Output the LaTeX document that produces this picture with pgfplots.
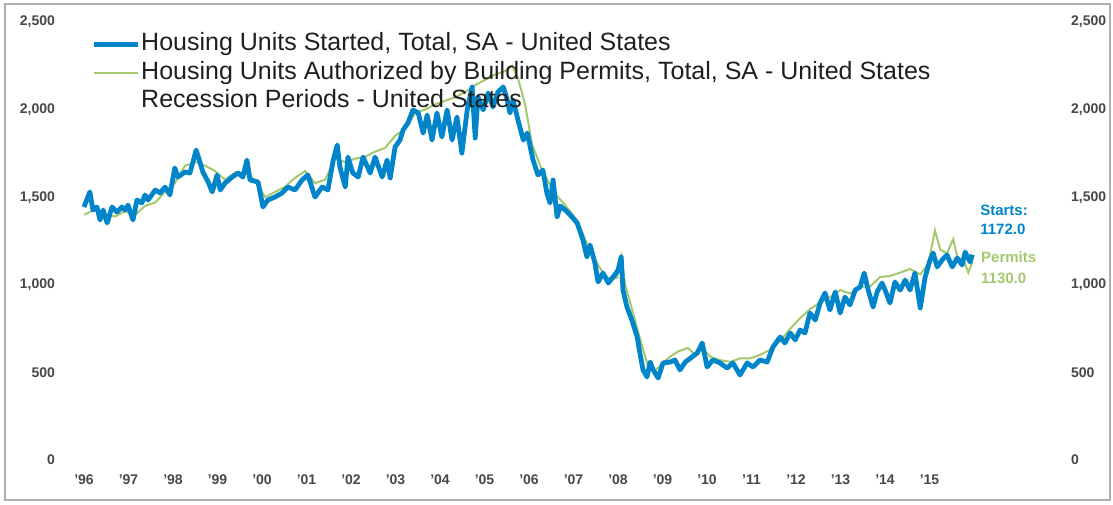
\documentclass[border=0pt]{standalone}
\usepackage{pgfplots}
\pgfplotsset{compat=1.18}
\usepackage{fontspec}
\setmainfont{Liberation Sans}
\definecolor{startsblue}{RGB}{0,133,202}
\definecolor{permgreen}{RGB}{163,200,110}
\definecolor{framegray}{RGB}{175,175,175}

\begin{document}
\begin{tikzpicture}
% page extent and outer frame
\path (-35pt,-22pt) rectangle (521.5pt,230pt);
\draw[framegray, line width=1pt] (-32.5pt,-20pt) rectangle (520pt,228pt);

\begin{axis}[
  at={(0,0)}, anchor=south west,
  scale only axis, width=495pt, height=219pt,
  xmin=1995.685, xmax=2017.93, ymin=0, ymax=2500,
  axis line style={draw=none}, major tick length=0pt,
  xtick={1996,...,2015},
  xticklabels={'96,'97,'98,'99,'00,'01,'02,'03,'04,'05,'06,'07,'08,'09,'10,'11,'12,'13,'14,'15},
  ytick={0,500,1000,1500,2000,2500},
  yticklabels={0,500,{1,000},{1,500},{2,000},{2,500}},
  tick label style={font=\fontsize{7}{8}\selectfont\bfseries, text=black!72},
  xticklabel style={yshift=-4pt},
  yticklabel style={xshift=-4pt},
  clip=false,
  legend image code/.code={\draw[#1] (0pt,0pt) -- (22pt,0pt);},
  legend style={at={(0.015,0.99)}, anchor=north west, draw=none, fill=none,
    font=\fontsize{12.5}{14}\selectfont, text=black!88, cells={anchor=west},
    nodes={inner sep=0.6pt, text height=9.4pt, text depth=2.8pt}, row sep=0.8pt},
]
\addplot[permgreen, line width=1pt, forget plot] coordinates {
(1996.00,1400)(1996.25,1430)(1996.47,1400)(1996.70,1390)(1996.92,1420)
(1997.15,1400)(1997.37,1450)(1997.60,1470)(1997.82,1530)(1998.04,1580)
(1998.27,1680)(1998.52,1700)(1998.72,1680)(1998.94,1650)(1999.17,1600)
(1999.39,1640)(1999.62,1640)(1999.84,1600)(2000.07,1500)(2000.29,1530)
(2000.52,1560)(2000.74,1610)(2000.97,1650)(2001.19,1580)(2001.42,1600)
(2001.64,1720)(2001.87,1700)(2002.09,1720)(2002.31,1730)(2002.54,1760)
(2002.76,1780)(2002.99,1850)(2003.21,1890)(2003.44,1980)(2003.66,2000)
(2003.89,2030)(2004.11,2050)(2004.34,2070)(2004.56,2100)(2004.79,2140)
(2005.01,2170)(2005.24,2200)(2005.46,2220)(2005.62,2250)(2005.75,2180)
(2005.91,2030)(2006.07,1800)(2006.25,1680)(2006.43,1590)(2006.58,1520)
(2006.76,1470)(2006.92,1420)(2007.10,1360)(2007.26,1260)(2007.37,1200)
(2007.51,1130)(2007.66,1070)(2007.82,1030)(2007.98,1040)(2008.07,1160)
(2008.16,1000)(2008.27,900)(2008.40,780)(2008.54,650)(2008.67,540)
(2008.83,510)(2008.99,550)(2009.17,590)(2009.35,620)(2009.57,640)
(2009.73,600)(2009.89,640)(2010.07,590)(2010.29,570)(2010.52,560)
(2010.74,580)(2010.97,580)(2011.19,600)(2011.42,630)(2011.64,680)
(2011.87,750)(2012.09,810)(2012.31,860)(2012.54,900)(2012.76,930)
(2012.99,970)(2013.21,950)(2013.44,990)(2013.66,990)(2013.89,1045)
(2014.11,1050)(2014.34,1070)(2014.56,1090)(2014.79,1060)(2014.97,1120)
(2015.12,1310)(2015.24,1200)(2015.39,1180)(2015.53,1260)(2015.64,1140)
(2015.75,1150)(2015.87,1070)(2015.96,1130)
};
\addplot[startsblue, line width=2.4pt, line join=round] coordinates {
(1996.00,1444)(1996.13,1530)(1996.20,1427)(1996.29,1444)(1996.36,1370)
(1996.43,1427)(1996.52,1353)(1996.63,1444)(1996.74,1415)(1996.85,1444)
(1996.92,1427)(1996.99,1455)(1997.10,1370)(1997.19,1484)(1997.30,1467)
(1997.37,1513)(1997.44,1484)(1997.60,1541)(1997.71,1524)(1997.82,1558)
(1997.93,1513)(1998.04,1667)(1998.11,1615)(1998.27,1644)(1998.38,1638)
(1998.52,1769)(1998.61,1695)(1998.67,1644)(1998.79,1587)(1998.88,1530)
(1998.99,1627)(1999.06,1541)(1999.17,1581)(1999.33,1615)(1999.46,1638)
(1999.57,1615)(1999.66,1712)(1999.73,1598)(1999.91,1587)(2000.02,1444)
(2000.13,1484)(2000.29,1501)(2000.45,1524)(2000.58,1558)(2000.74,1541)
(2000.90,1598)(2001.03,1627)(2001.19,1501)(2001.35,1558)(2001.48,1541)
(2001.60,1712)(2001.69,1798)(2001.75,1672)(2001.87,1558)(2001.93,1729)
(2002.04,1638)(2002.16,1615)(2002.27,1729)(2002.43,1638)(2002.54,1729)
(2002.70,1615)(2002.81,1712)(2002.88,1610)(2002.99,1787)(2003.10,1826)
(2003.17,1884)(2003.28,1924)(2003.39,1998)(2003.51,1981)(2003.62,1866)
(2003.71,1969)(2003.82,1826)(2003.93,1981)(2004.04,1844)(2004.16,1998)
(2004.27,1826)(2004.38,1958)(2004.49,1752)(2004.61,1998)(2004.72,2129)
(2004.79,1838)(2004.85,2072)(2004.97,1998)(2005.08,2095)(2005.19,2015)
(2005.30,2100)(2005.42,2129)(2005.51,2055)(2005.57,1981)(2005.64,2055)
(2005.75,1941)(2005.87,1826)(2005.96,1866)(2006.09,1712)(2006.20,1627)
(2006.31,1655)(2006.40,1524)(2006.47,1467)(2006.54,1598)(2006.63,1387)
(2006.70,1450)(2006.81,1427)(2006.92,1400)(2007.08,1353)(2007.21,1256)
(2007.30,1159)(2007.37,1227)(2007.48,1124)(2007.55,1016)(2007.66,1067)
(2007.78,1010)(2007.89,1045)(2008.00,1084)(2008.07,1159)(2008.11,970)
(2008.20,873)(2008.31,799)(2008.43,702)(2008.49,611)(2008.56,514)
(2008.65,474)(2008.72,559)(2008.79,514)(2008.90,468)(2009.01,554)
(2009.17,559)(2009.28,571)(2009.39,514)(2009.51,559)(2009.66,588)
(2009.78,611)(2009.89,668)(2010.00,531)(2010.13,571)(2010.29,554)
(2010.45,525)(2010.58,554)(2010.74,485)(2010.90,554)(2011.03,531)
(2011.19,571)(2011.35,559)(2011.48,645)(2011.64,702)(2011.75,668)
(2011.87,725)(2011.98,685)(2012.09,742)(2012.20,725)(2012.31,839)
(2012.43,799)(2012.54,896)(2012.65,953)(2012.76,856)(2012.88,959)
(2012.99,839)(2013.10,930)(2013.21,885)(2013.33,970)(2013.44,988)
(2013.53,1067)(2013.62,970)(2013.73,873)(2013.82,959)(2013.93,1010)
(2014.00,970)(2014.11,896)(2014.22,1016)(2014.34,970)(2014.45,1027)
(2014.56,970)(2014.67,1067)(2014.79,868)(2014.90,1045)(2015.01,1142)
(2015.08,1181)(2015.17,1102)(2015.28,1142)(2015.39,1170)(2015.51,1102)
(2015.62,1153)(2015.73,1113)(2015.80,1187)(2015.91,1130)(2015.96,1172)
};
\addlegendentry{Housing Units Started, Total, SA - United States}
\addlegendimage{permgreen, line width=1pt}
\addlegendentry{Housing Units Authorized by Building Permits, Total, SA - United States}
\addlegendimage{draw opacity=0}
\addlegendentry{Recession Periods - United States}

\node[anchor=west, font=\fontsize{7.5}{8}\selectfont\bfseries, text=startsblue, inner sep=0pt] at (axis cs:2016.13,1427) {Starts:};
\node[anchor=west, font=\fontsize{7.5}{8}\selectfont\bfseries, text=startsblue, inner sep=0pt] at (axis cs:2016.13,1318) {1172.0};
\node[anchor=west, font=\fontsize{7.5}{8}\selectfont\bfseries, text=permgreen, inner sep=0pt] at (axis cs:2016.15,1159) {Permits};
\node[anchor=west, font=\fontsize{7.5}{8}\selectfont\bfseries, text=permgreen, inner sep=0pt] at (axis cs:2016.15,1039) {1130.0};
\end{axis}

\begin{axis}[
  at={(0,0)}, anchor=south west,
  scale only axis, width=495pt, height=219pt,
  xmin=1995.685, xmax=2017.93, ymin=0, ymax=2500,
  hide x axis, axis y line*=right,
  axis line style={draw=none}, major tick length=0pt,
  ytick={0,500,1000,1500,2000,2500},
  yticklabels={0,500,{1,000},{1,500},{2,000},{2,500}},
  yticklabel style={font=\fontsize{7}{8}\selectfont\bfseries, text=black!72, xshift=2pt},
]
\end{axis}
\end{tikzpicture}
\end{document}
